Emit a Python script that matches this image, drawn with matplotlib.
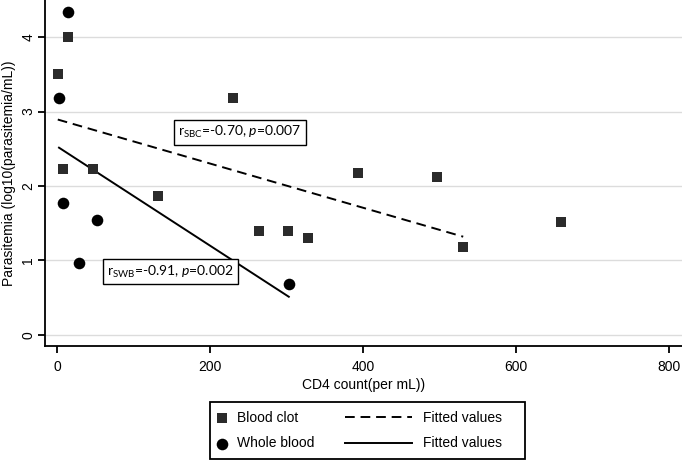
import numpy as np
import matplotlib
matplotlib.use("Agg")
import matplotlib.pyplot as plt
from matplotlib.patches import Rectangle

plt.rcParams['font.family'] = ['Liberation Sans', 'DejaVu Sans']
plt.rcParams['font.size'] = 10
plt.rcParams['mathtext.fontset'] = 'custom'
plt.rcParams['mathtext.rm'] = 'Lato'
plt.rcParams['mathtext.it'] = 'Lato:italic'

# Blood clot (squares)
clot_cd4 = [1, 8, 14, 47, 132, 230, 264, 302, 328, 393, 497, 531, 659]
clot_par = [3.51, 2.23, 4.00, 2.23, 1.87, 3.18, 1.40, 1.40, 1.30, 2.17, 2.12, 1.18, 1.51]
clot_fit_n = 12  # last point not in the fit

# Whole blood (circles)
wb_cd4 = [2.6, 7.8, 14, 29, 52, 303]
wb_par = [3.18, 1.77, 4.33, 0.97, 1.54, 0.68]

xticks = [0, 200, 400, 600, 800]
yticks = [0, 1, 2, 3, 4]
label_sbc = r'r$_{\mathregular{SBC}}$=-0.70, $\mathit{p}$=0.007'
label_swb = r'r$_{\mathregular{SWB}}$=-0.91, $\mathit{p}$=0.002'

fig = plt.figure(figsize=(6.82, 4.62), dpi=100)
ax = fig.add_axes([45 / 682, 1 - 346 / 462, 1 - 45 / 682, 346 / 462])

# fitted lines
cx = np.array(clot_cd4[:clot_fit_n])
cy = np.array(clot_par[:clot_fit_n])
b1, a1 = np.polyfit(cx, cy, 1)
fx1 = np.array([cx.min(), cx.max()])
wx = np.array(wb_cd4)
b2, a2 = np.polyfit(wx, np.array(wb_par), 1)
fx2 = np.array([wx.min(), wx.max()])

ln_dash, = ax.plot(fx1, a1 + b1 * fx1, color='black', lw=1.4, linestyle=(0, (5, 3)), zorder=2)
ln_solid, = ax.plot(fx2, a2 + b2 * fx2, color='black', lw=1.4, zorder=2)

sq = ax.scatter(clot_cd4, clot_par, marker='s', s=62, color='#2b2b2b', zorder=3, linewidths=0)
ci = ax.scatter(wb_cd4, wb_par, marker='o', s=70, color='black', zorder=3, linewidths=0)

ax.text(239, 2.72, label_sbc, fontsize=10, family=['Lato', 'DejaVu Sans'], ha='center', va='center',
        bbox=dict(boxstyle='square,pad=0.3', fc='white', ec='black', lw=1))
ax.text(148, 0.85, label_swb, fontsize=10, family=['Lato', 'DejaVu Sans'], ha='center', va='center',
        bbox=dict(boxstyle='square,pad=0.3', fc='white', ec='black', lw=1))

ax.set_xlim(-15.7, 817)
ax.set_ylim(-0.148, 4.497)
ax.set_xticks(xticks)
ax.set_yticks(yticks)
ax.set_yticklabels([str(t) for t in yticks], rotation=90, va='center')
ax.tick_params(axis='x', length=5, width=1.3, pad=5)
ax.tick_params(axis='y', length=5, width=1.3, pad=2)
ax.grid(axis='y', color='#dcdcdc', lw=1)
ax.set_axisbelow(True)
for s in ['top', 'right']:
    ax.spines[s].set_visible(False)
for s in ['left', 'bottom']:
    ax.spines[s].set_linewidth(1.3)
ax.set_xlabel('CD4 count(per mL))', labelpad=3)
ax.set_ylabel('Parasitemia (log10(parasitemia/mL))', labelpad=4)

# legend: two columns with a shared frame
leg1 = fig.legend([sq, ci], ['Blood clot', 'Whole blood'], loc='upper left',
                  bbox_to_anchor=(215 / 682, 1 - 411 / 462), frameon=False,
                  handlelength=1.0, handletextpad=0.6, labelspacing=0.82, borderpad=0,
                  borderaxespad=0, fontsize=10)
leg2 = fig.legend([ln_dash, ln_solid], ['Fitted values', 'Fitted values'], loc='upper left',
                  bbox_to_anchor=(345 / 682, 1 - 411 / 462), frameon=False,
                  handlelength=4.8, handletextpad=0.8, labelspacing=0.82, borderpad=0,
                  borderaxespad=0, fontsize=10)
fig.add_artist(Rectangle((210 / 682, 1 - 459 / 462), 315 / 682, 57 / 462, transform=fig.transFigure,
                         fill=False, ec='black', lw=1.3))

fig.savefig('out.png', dpi=100)
